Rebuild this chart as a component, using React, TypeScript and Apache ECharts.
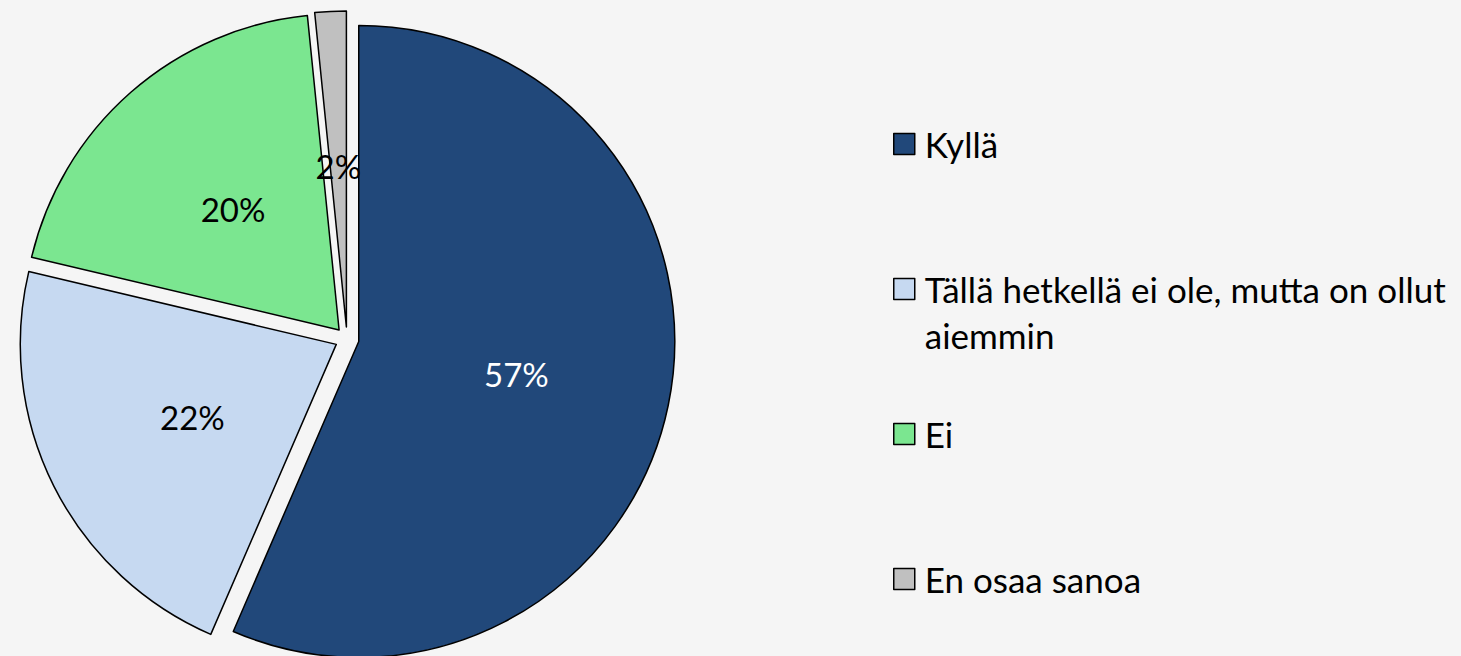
import React, { useEffect, useRef } from "react";
import * as echarts from "echarts";

const categories = [
  "Kyllä",
  "Tällä hetkellä ei ole, mutta on ollut aiemmin",
  "Ei",
  "En osaa sanoa",
];
const legendLabels = [
  "Kyllä",
  "\nTällä hetkellä ei ole, mutta on ollut\naiemmin",
  "Ei",
  "En osaa sanoa",
];
const values = [56.5, 22.2, 19.7, 1.6];
const colors = ["#21487a", "#c6d9f1", "#7be690", "#c0c0c0"];
const labelColors = ["#ffffff", "#000000", "#000000", "#000000"];

const FONT = "Lato, 'Open Sans', sans-serif";
const LH = 46;

export default function App() {
  const ref = useRef<HTMLDivElement>(null);
  useEffect(() => {
    if (!ref.current) return;
    const chart = echarts.init(ref.current, undefined, { renderer: "svg" });
    const data = categories.map((name, i) => {
      const itemStyle = { color: colors[i], borderColor: "#000", borderWidth: 1.5 };
      const label = { color: labelColors[i] };
      return {
        name,
        value: values[i],
        selected: true,
        itemStyle,
        label,
        select: { itemStyle, label },
      };
    });
    chart.setOption({
      animation: false,
      backgroundColor: "#f5f5f5",
      legend: {
        orient: "vertical",
        left: 893,
        top: 75,
        padding: 0,
        itemGap: 7,
        itemWidth: 21,
        itemHeight: 21,
        icon: "rect",
        selectedMode: false,
        itemStyle: { borderColor: "#000", borderWidth: 1.5 },
        formatter: (name: string) => legendLabels[categories.indexOf(name)],
        textStyle: {
          fontFamily: FONT,
          fontSize: 35,
          color: "#000",
          lineHeight: LH,
        },
        data: categories.map((name, i) => ({
          name,
          textStyle: {
            padding: i === 1 ? [0, 0, 0, 5] : [LH, 0, LH, 5],
          },
        })),
      },
      series: [
        {
          type: "pie",
          center: [347, 339],
          radius: 316,
          startAngle: 90,
          clockwise: true,
          selectedMode: "multiple",
          selectedOffset: 12,
          emphasis: { disabled: true },
          label: {
            show: true,
            position: "inside",
            fontFamily: FONT,
            fontSize: 33,
            formatter: (p: any) => Math.round(p.value) + "%",
          },
          labelLine: { show: false },
          data,
        },
      ],
    });
    return () => chart.dispose();
  }, []);
  return (
    <div
      ref={ref}
      style={{ position: "fixed", left: 0, top: 0, width: 1461, height: 656 }}
    />
  );
}
